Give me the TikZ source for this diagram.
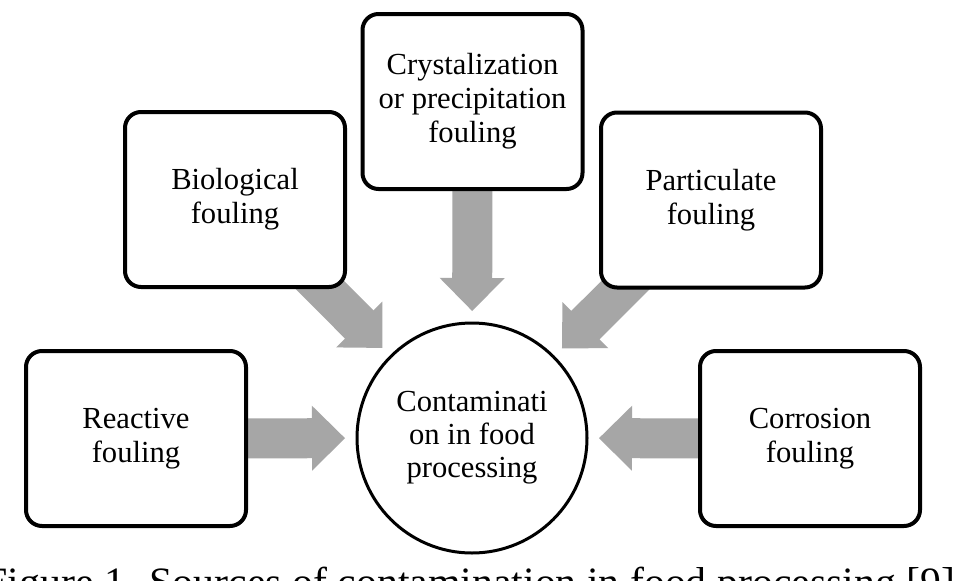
\documentclass[tikz,border=0pt]{standalone}
\usepackage{fontspec}
\setmainfont{Liberation Serif}
\usetikzlibrary{calc,backgrounds}
\definecolor{arrowgray}{HTML}{A6A6A6}
\newcommand\blockarr[2]{%
  \coordinate (T) at ($(#2.center)!127pt!(#1.center)$);
  \coordinate (B) at ($(#2.center)!160pt!(#1.center)$);
  \coordinate (S) at (#1.center);
  \fill[arrowgray] ($(S)!20pt!90:(T)$) -- ($(B)!20pt!90:(T)$) -- ($(B)!32.5pt!90:(T)$)
    -- (T) -- ($(B)!32.5pt!-90:(T)$) -- ($(B)!20pt!-90:(T)$) -- ($(S)!20pt!-90:(T)$) -- cycle;}
\begin{document}
\begin{tikzpicture}[x=1pt,y=-1pt,
  box/.style={draw=black,line width=4pt,rounded corners=16pt,fill=white,
    minimum width=220pt,minimum height=175pt,align=center,inner sep=0pt,
    font=\fontsize{30.6}{34}\selectfont},
  hub/.style={draw=black,line width=3pt,circle,minimum size=230pt,fill=white,
    align=center,inner sep=0pt,font=\fontsize{30.6}{33}\selectfont},
  caption/.style={anchor=base,inner sep=0pt,font=\fontsize{41.8}{44}\selectfont}]
\useasboundingbox (0,0) rectangle (956,581);

\node[hub] (cen) at (472,438) {Contaminati\\on in food\\processing};
\node[box] (reac) at (136,438.5) {Reactive\\fouling};
\node[box] (bio) at (235,199.5) {Biological\\fouling};
\node[box] (crys) at (472.5,101.5) {Crystalization\\or precipitation\\fouling};
\node[box] (part) at (711,200) {Particulate\\fouling};
\node[box] (corr) at (810,438.5) {Corrosion\\fouling};

\begin{pgfonlayer}{background}
\fill[white] (0,0) rectangle (956,581);
\blockarr{reac}{cen}
\blockarr{bio}{cen}
\blockarr{crys}{cen}
\blockarr{part}{cen}
\blockarr{corr}{cen}
\end{pgfonlayer}

\node[caption] (cap) at (470,596) {Figure 1. Sources of contamination in food processing [9]};
\end{tikzpicture}
\end{document}
